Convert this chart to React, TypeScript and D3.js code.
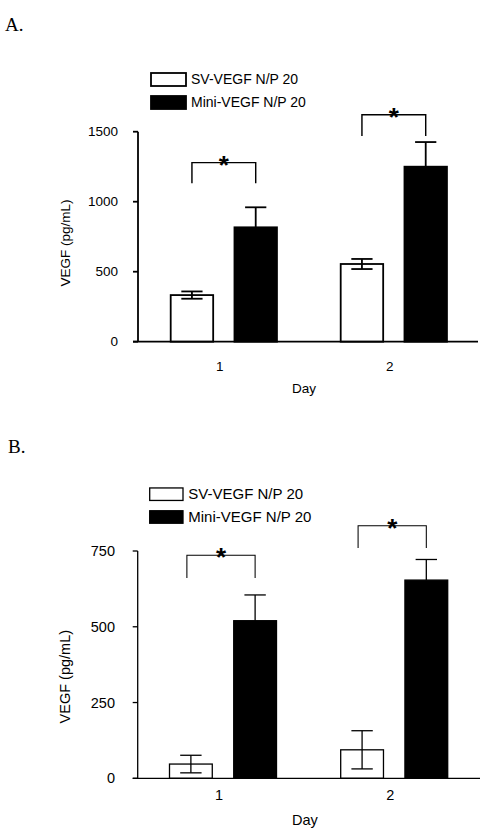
import React from "react";
import * as d3 from "d3";

// ---------- data ----------
const days = ["1", "2"];
const seriesNames = ["SV-VEGF N/P 20", "Mini-VEGF N/P 20"];

// Panel A
const aTicks = [0, 500, 1000, 1500];
const aSV = [333, 555];
const aSVErr = [26, 36];
const aMini = [817, 1250];
const aMiniErr = [143, 176];
const aBracketTop = [1279, 1621];
const aBracketBottom = [1131, 1469];

// Panel B
const bTicks = [0, 250, 500, 750];
const bSV = [47, 94];
const bSVErr = [29, 63];
const bMini = [520, 654];
const bMiniErr = [85, 68];
const bBracketTop = [736, 833];
const bBracketBottom = [661, 760];

const SANS = "'Liberation Sans', Arial, sans-serif";
const SERIF = "'Liberation Serif', 'Times New Roman', serif";

type PanelProps = {
  label: string;
  labelX: number;
  labelY: number;
  ticks: number[];
  yMax: number;
  sv: number[];
  svErr: number[];
  mini: number[];
  miniErr: number[];
  brTop: number[];
  brBottom: number[];
  axisX: number;
  axisRight: number;
  y0: number;
  yTop: number;
  range: [number, number];
  sw: number;
  fs: number;
  legX: number;
  legY: number[];
  legW: number;
  legH: number;
  legTextX: number;
  yLabelX: number;
  yLabelY: number;
  tickLabelRight: number;
  xLabelY: number;
  dayY: number;
  dayX: number;
  bracketShift: number;
};

function Panel(p: PanelProps) {
  const y = d3.scaleLinear().domain([0, p.yMax]).range([p.y0, p.yTop]);
  const x0 = d3
    .scaleBand<string>()
    .domain(days)
    .range(p.range)
    .paddingInner(0.375)
    .paddingOuter(0.125);
  const x1 = d3
    .scaleBand<string>()
    .domain(seriesNames)
    .range([0, x0.bandwidth()])
    .paddingInner(0.334)
    .paddingOuter(0);
  const bw = x1.bandwidth();
  const capHalf = bw / 4;
  const sw = p.sw;

  return (
    <g>
      <text x={p.labelX} y={p.labelY} fontFamily={SERIF} fontSize={19}>
        {p.label}
      </text>
      {/* legend */}
      {seriesNames.map((s, i) => (
        <g key={s}>
          <rect
            x={p.legX}
            y={p.legY[i] - p.legH / 2}
            width={p.legW}
            height={p.legH}
            fill={i === 0 ? "#fff" : "#000"}
            stroke="#000"
            strokeWidth={sw}
          />
          <text
            x={p.legTextX}
            y={p.legY[i]}
            dy="0.35em"
            fontFamily={SANS}
            fontSize={p.fs + 0.5}
          >
            {s}
          </text>
        </g>
      ))}
      {/* bars */}
      {days.map((d, i) => {
        const gx = x0(d)!;
        const sx = gx + x1(seriesNames[0])!;
        const mx = gx + x1(seriesNames[1])!;
        const scx = sx + bw / 2;
        const mcx = mx + bw / 2;
        const svTop = y(p.sv[i]);
        const miniTop = y(p.mini[i]);
        return (
          <g key={d}>
            <rect
              x={sx}
              y={svTop}
              width={bw}
              height={p.y0 - svTop}
              fill="#fff"
              stroke="#000"
              strokeWidth={sw}
            />
            <rect
              x={mx}
              y={miniTop}
              width={bw}
              height={p.y0 - miniTop}
              fill="#000"
              stroke="#000"
              strokeWidth={sw}
            />
            {/* SV error bar both ways */}
            <line
              x1={scx}
              x2={scx}
              y1={y(p.sv[i] + p.svErr[i])}
              y2={y(p.sv[i] - p.svErr[i])}
              stroke="#000"
              strokeWidth={sw}
            />
            <line
              x1={scx - capHalf}
              x2={scx + capHalf}
              y1={y(p.sv[i] + p.svErr[i])}
              y2={y(p.sv[i] + p.svErr[i])}
              stroke="#000"
              strokeWidth={sw}
            />
            <line
              x1={scx - capHalf}
              x2={scx + capHalf}
              y1={y(p.sv[i] - p.svErr[i])}
              y2={y(p.sv[i] - p.svErr[i])}
              stroke="#000"
              strokeWidth={sw}
            />
            {/* Mini error bar up */}
            <line
              x1={mcx}
              x2={mcx}
              y1={y(p.mini[i] + p.miniErr[i])}
              y2={miniTop}
              stroke="#000"
              strokeWidth={sw}
            />
            <line
              x1={mcx - capHalf}
              x2={mcx + capHalf}
              y1={y(p.mini[i] + p.miniErr[i])}
              y2={y(p.mini[i] + p.miniErr[i])}
              stroke="#000"
              strokeWidth={sw}
            />
            {/* significance bracket */}
            <path
              d={`M${scx + p.bracketShift},${y(p.brBottom[i])}V${y(
                p.brTop[i]
              )}H${mcx}V${y(p.brBottom[i])}`}
              fill="none"
              stroke="#000"
              strokeWidth={sw * 0.8}
            />
            <text
              x={(scx + p.bracketShift + mcx) / 2}
              y={y(p.brTop[i]) + 11}
              textAnchor="middle"
              fontFamily={SANS}
              fontWeight="bold"
              fontSize={26}
            >
              *
            </text>
            <text
              x={gx + x0.bandwidth() / 2 + p.dayX}
              y={p.dayY}
              dy="0.35em"
              textAnchor="middle"
              fontFamily={SANS}
              fontSize={p.fs}
            >
              {d}
            </text>
          </g>
        );
      })}
      {/* axes */}
      <line
        x1={p.axisX}
        x2={p.axisX}
        y1={p.yTop}
        y2={p.y0}
        stroke="#000"
        strokeWidth={sw}
      />
      <line
        x1={p.axisX - 5}
        x2={p.axisRight}
        y1={p.y0}
        y2={p.y0}
        stroke="#000"
        strokeWidth={sw}
      />
      {p.ticks.map((t) => (
        <g key={t}>
          <line
            x1={p.axisX - 5}
            x2={p.axisX}
            y1={y(t)}
            y2={y(t)}
            stroke="#000"
            strokeWidth={sw}
          />
          <text
            x={p.tickLabelRight}
            y={y(t)}
            dy="0.35em"
            textAnchor="end"
            fontFamily={SANS}
            fontSize={p.fs}
          >
            {t}
          </text>
        </g>
      ))}
      <text
        transform={`translate(${p.yLabelX},${p.yLabelY}) rotate(-90)`}
        dy="0.35em"
        textAnchor="middle"
        fontFamily={SANS}
        fontSize={p.fs}
      >
        VEGF (pg/mL)
      </text>
      <text
        x={(p.axisX + p.axisRight) / 2 - 4}
        y={p.xLabelY}
        dy="0.35em"
        textAnchor="middle"
        fontFamily={SANS}
        fontSize={p.fs}
      >
        Day
      </text>
    </g>
  );
}

export default function App() {
  return (
    <div style={{ position: "absolute", left: 0, top: 0 }}>
      <svg width={494} height={840} style={{ display: "block", background: "#fff" }}>
        <rect x={0} y={0} width={494} height={840} fill="#fff" />
        <Panel
          label="A."
          labelX={5}
          labelY={31}
          ticks={aTicks}
          yMax={1500}
          sv={aSV}
          svErr={aSVErr}
          mini={aMini}
          miniErr={aMiniErr}
          brTop={aBracketTop}
          brBottom={aBracketBottom}
          axisX={138}
          axisRight={478}
          y0={341.7}
          yTop={131.7}
          range={[149.45, 468.2]}
          sw={1.8}
          fs={13.5}
          legX={151}
          legY={[79.5, 102.5]}
          legW={35}
          legH={13}
          legTextX={191}
          yLabelX={65}
          yLabelY={243}
          tickLabelRight={118}
          xLabelY={388}
          dayY={366.7}
          dayX={-4}
          bracketShift={0}
        />
        <Panel
          label="B."
          labelX={8}
          labelY={453}
          ticks={bTicks}
          yMax={750}
          sv={bSV}
          svErr={bSVErr}
          mini={bMini}
          miniErr={bMiniErr}
          brTop={bBracketTop}
          brBottom={bBracketBottom}
          axisX={137.7}
          axisRight={480}
          y0={778.3}
          yTop={551}
          range={[148.1, 469.1]}
          sw={1.3}
          fs={14.5}
          legX={149.7}
          legY={[494.2, 517]}
          legW={33.3}
          legH={12.5}
          legTextX={188.3}
          yLabelX={65}
          yLabelY={676.7}
          tickLabelRight={115}
          xLabelY={820}
          dayY={795}
          dayX={-4}
          bracketShift={-4}
        />
      </svg>
    </div>
  );
}
